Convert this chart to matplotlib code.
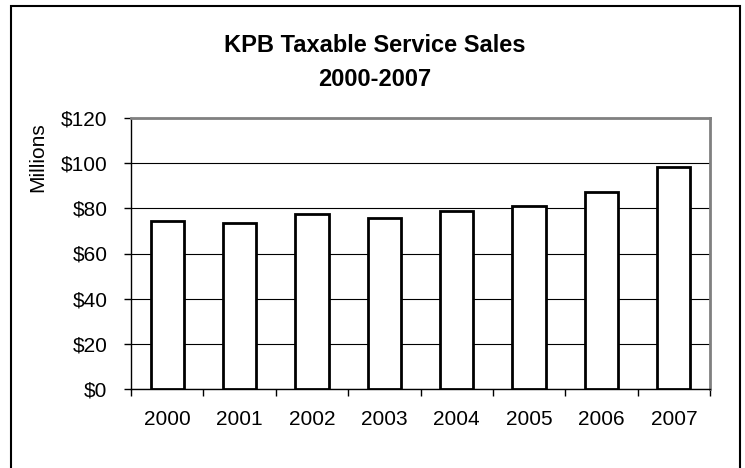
import matplotlib
matplotlib.use("Agg")
import matplotlib.pyplot as plt
from matplotlib.patches import Rectangle
from matplotlib.ticker import FixedLocator, NullFormatter

plt.rcParams['font.family'] = ['Liberation Sans', 'DejaVu Sans']

years = ['2000', '2001', '2002', '2003', '2004', '2005', '2006', '2007']
sales = [74.4, 73.5, 77.5, 75.5, 78.7, 81.2, 87.4, 98.5]  # millions of dollars
yticks = [0, 20, 40, 60, 80, 100, 120]

fig = plt.figure(figsize=(7.45, 4.68), dpi=100)
ax = fig.add_axes([131/745, 1 - 389/468, (710-131)/745, (389-118)/468])

x = range(len(years))
ax.bar(x, sales, width=0.46, color='white', edgecolor='black', linewidth=2, zorder=3)

ax.set_xlim(-0.5, len(years) - 0.5)
ax.set_ylim(0, 120)
ax.set_yticks(yticks)
ax.set_yticklabels(['$%d' % v for v in yticks], fontsize=15)
ax.set_xticks(list(x))
ax.set_xticklabels(years, fontsize=15)
ax.xaxis.set_minor_locator(FixedLocator([i - 0.5 for i in range(len(years) + 1)]))
ax.xaxis.set_minor_formatter(NullFormatter())
ax.tick_params(axis='x', which='major', length=0, pad=15)
ax.tick_params(axis='x', which='minor', length=5, width=1, color='black')
ax.tick_params(axis='y', length=5, width=1, color='black', pad=12)
ax.grid(axis='y', color='black', linewidth=0.8, zorder=0)

for side in ['top', 'right']:
    ax.spines[side].set_color('#808080')
    ax.spines[side].set_linewidth(2)
for side in ['left', 'bottom']:
    ax.spines[side].set_color('black')
    ax.spines[side].set_linewidth(1)

fig.text(38/745, 1 - 157/468, 'Millions', rotation=90, fontsize=15,
         ha='center', va='center')
fig.text(375/745, 1 - 46/468, 'KPB Taxable Service Sales', fontsize=17,
         fontweight='bold', ha='center', va='center')
fig.text(375/745, 1 - 79/468, '2000-2007', fontsize=17,
         fontweight='bold', ha='center', va='center')

# outer chart frame (bottom edge runs off the image)
fig.patches.append(Rectangle((11/745, -0.05), (740-11)/745, 1.05 - 6/468,
                             transform=fig.transFigure, fill=False,
                             edgecolor='black', linewidth=1.5))

fig.savefig('out.png', dpi=100)
